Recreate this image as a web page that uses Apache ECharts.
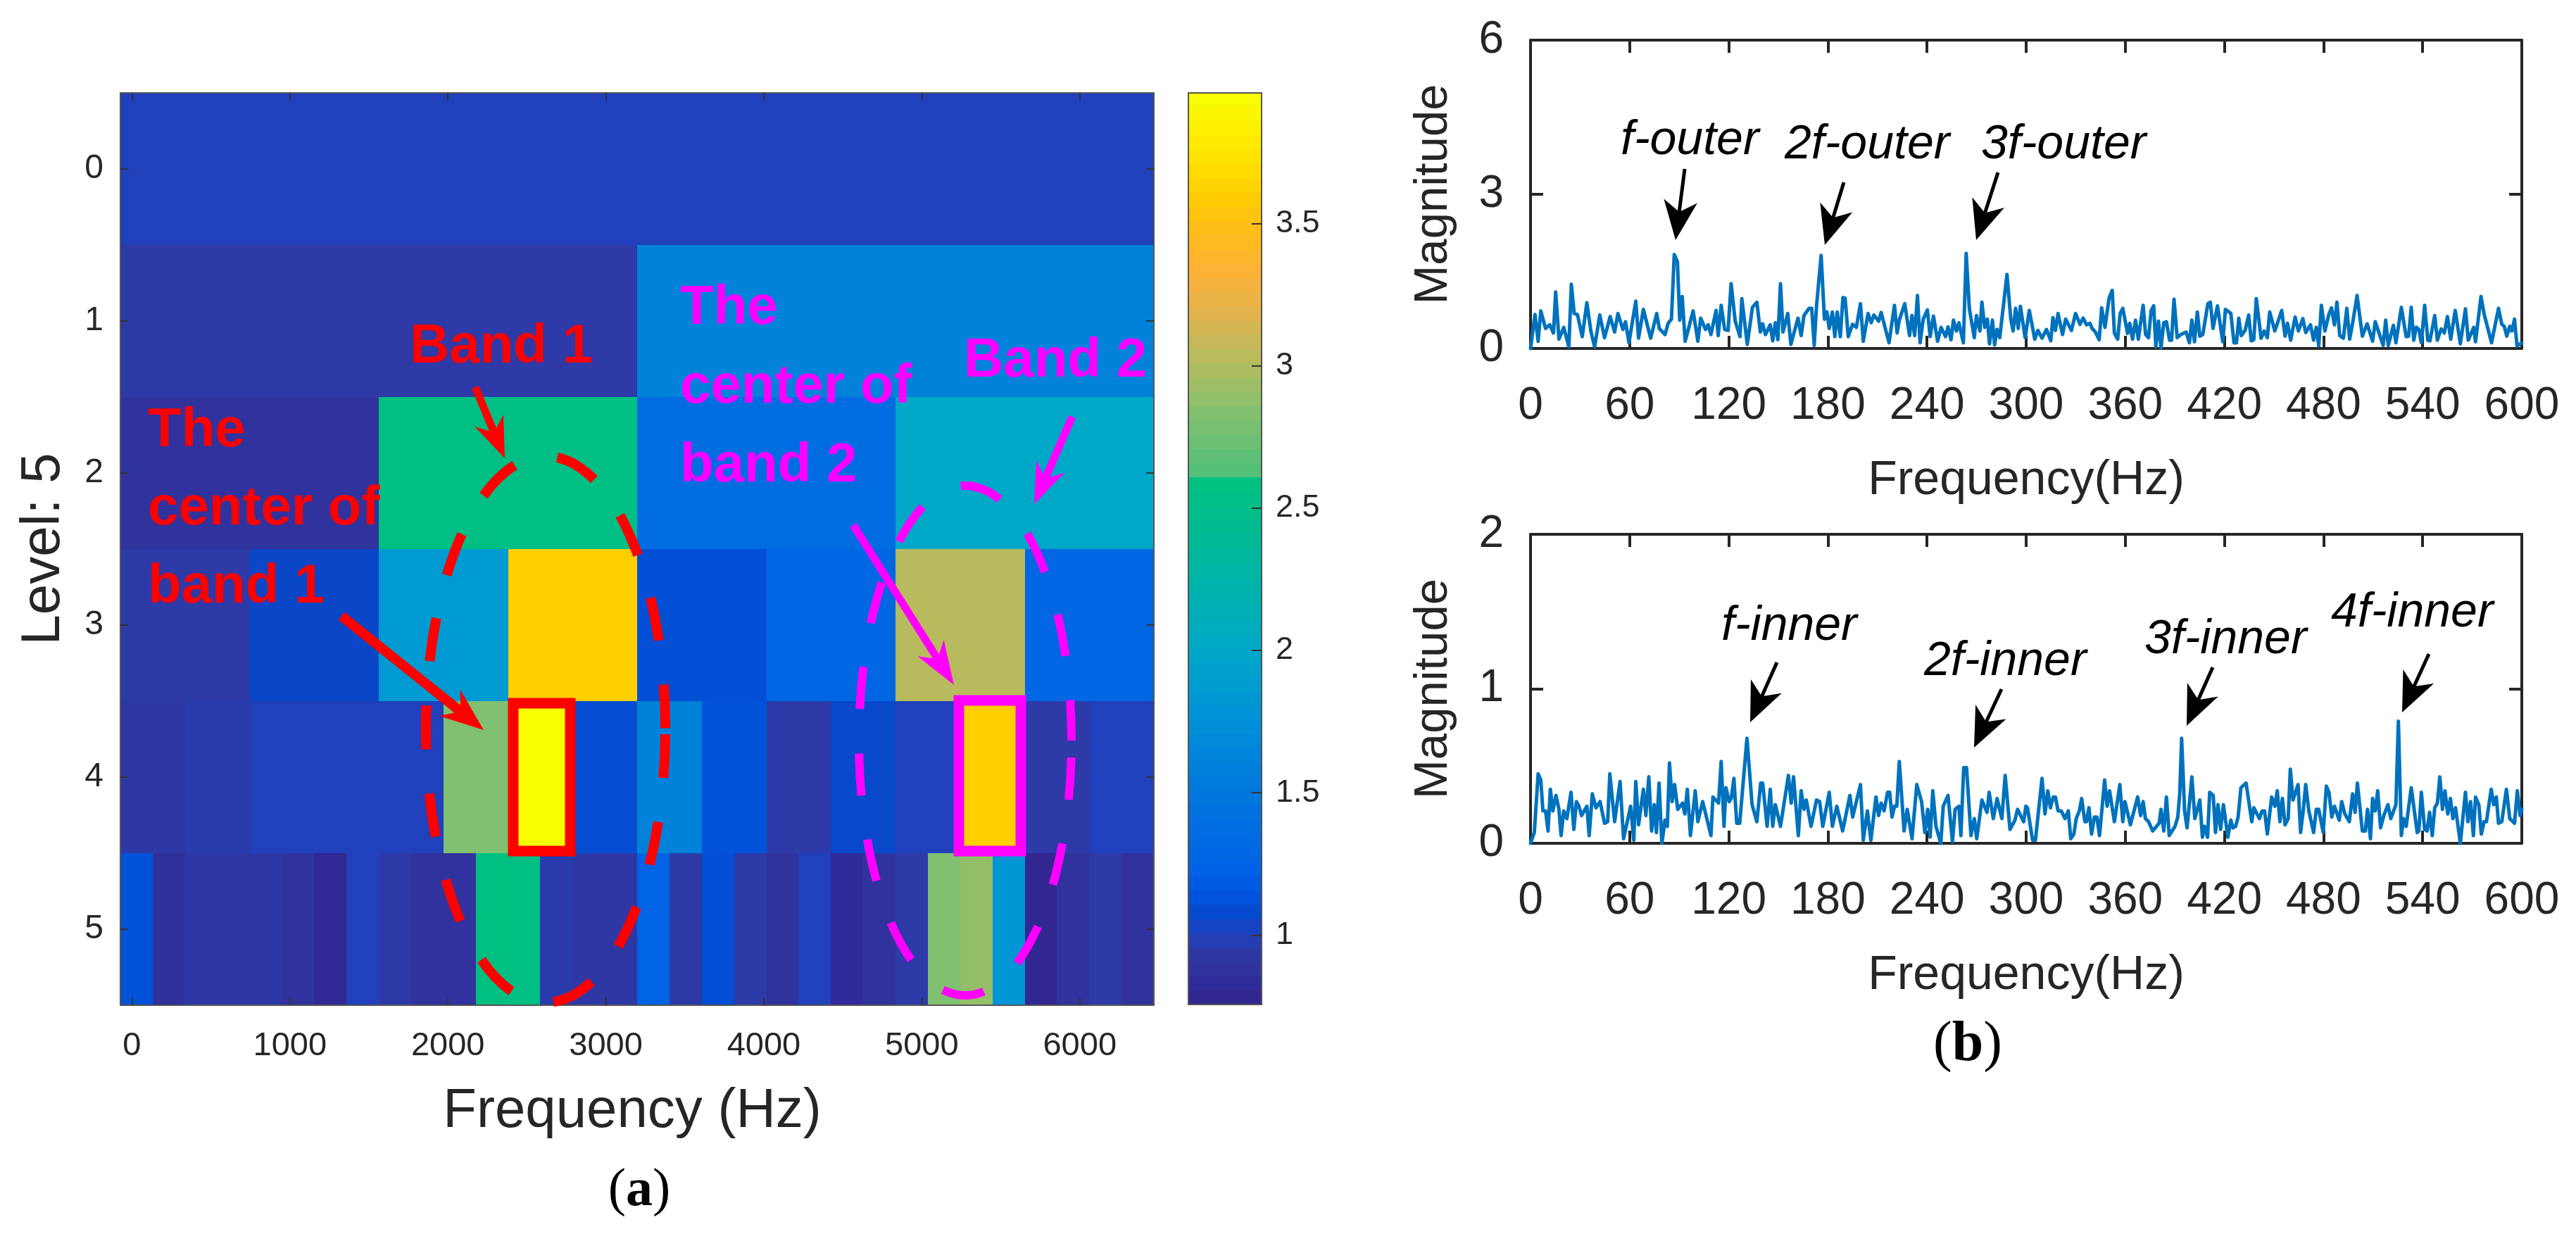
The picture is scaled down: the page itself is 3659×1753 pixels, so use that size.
<!DOCTYPE html>
<html>
<head>
<meta charset="utf-8">
<style>html,body{margin:0;padding:0;background:#fff}#c{width:3659px;height:1753px}</style>
<script src="https://cdn.jsdelivr.net/npm/echarts@6/dist/echarts.min.js"></script>
</head>
<body>
<div id="c"></div>
<script>
// ---------- panel (a): wavelet-packet kurtogram ----------
const levelLabels = [0, 1, 2, 3, 4, 5];
const freqTicks = [0, 1000, 2000, 3000, 4000, 5000, 6000];
const colorTicks = [1, 1.5, 2, 2.5, 3, 3.5];
const freqMin = -73, freqMax = 6469;
const colorMin = 0.756, colorMax = 3.959;
const level0 = [1.0];
const level1 = [0.95, 1.6];
const level2 = [0.88, 2.55, 1.35, 2.0];
const level3 = [0.95, 1.06, 1.85, 3.6, 1.1, 1.28, 3.03, 1.28];
const level4 = [0.93, 0.96, 1.0, 1.0, 1.0, 2.82, 3.95, 1.09, 1.6, 1.12, 0.95, 1.07, 1.0, 3.6, 0.95, 1.0];
const level5 = [1.12, 0.86, 0.93, 0.93, 0.93, 0.88, 0.8, 1.0, 0.94, 0.88, 0.88, 2.6, 2.55, 0.96, 0.93, 0.93,
                1.26, 0.94, 1.1, 0.95, 0.88, 1.0, 0.82, 0.88, 0.95, 2.82, 2.9, 1.8, 0.78, 0.88, 0.95, 0.88];
const levels = [level0, level1, level2, level3, level4, level5];

const colorStops = [
 [0.756,'#33268A'],[0.82,'#30299A'],[0.88,'#30339E'],[0.95,'#2D3AA8'],[1.0,'#2040BC'],[1.06,'#0A46C8'],
 [1.11,'#0050D8'],[1.23,'#0062E6'],[1.5,'#0078DC'],[1.75,'#0090D8'],[2.0,'#00A8C8'],[2.25,'#00B4A8'],
 [2.5,'#00BE88'],[2.61,'#00C080'],[2.615,'#50C078'],[2.69,'#60C076'],[2.82,'#80C070'],[3.0,'#B0BC60'],
 [3.2,'#E6B34C'],[3.35,'#FFB232'],[3.5,'#FFBE14'],[3.6,'#FFCF00'],[3.82,'#FFF000'],[3.959,'#F8FF00']];

// ---------- panel (b): envelope spectra (turning points) ----------
const spectrumTicks = [0,60,120,180,240,300,360,420,480,540,600];
const outerFreq = [0,2.7,4.6,6.2,9.1,11.6,13.9,15.2,17.2,20.1,23.2,24.7,26.4,28.4,31.3,34.1,36.5,38.8,41.9,44.8,48.2,50.9,52.9,55.9,57.5,59.6,63.7,65.4,68.3,72.7,76.4,77.9,81.4,83.3,85.3,87.0,88.9,90.3,91.8,93.6,95.5,98.4,101.3,103.0,105.9,107.5,109.2,112.3,113.6,115.4,117.5,119.6,121.4,123.9,126.8,127.9,131.2,134.3,137.0,139.1,140.5,142.2,145.1,146.6,148.2,149.7,151.3,152.8,155.7,157.6,161.9,163.8,165.5,168.6,170.2,171.7,173.1,175.9,177.9,179.4,180.8,182.7,184.2,185.6,187.5,189.1,190.4,192.3,194.9,197.2,199.7,201.4,204.3,206.2,207.8,210.7,212.2,217.0,220.3,221.9,223.2,226.5,229.4,230.9,232.5,234.2,235.8,237.7,240.2,241.9,243.9,246.4,248.5,251.2,252.7,254.5,256.0,257.8,259.3,262.0,263.7,265.6,268.6,269.9,272.0,273.2,274.9,276.5,277.8,279.6,280.9,282.4,284.0,288.4,290.7,292.1,293.6,295.2,296.5,299.4,301.9,305.2,307.1,309.6,312.3,314.9,316.2,317.7,319.3,322.0,323.9,327.4,329.9,332.6,334.5,336.5,338.6,339.9,341.9,344.2,345.7,347.7,350.2,352.1,353.4,355.4,356.9,358.5,361.4,362.7,364.4,366.2,367.9,370.8,372.3,374.1,375.6,377.2,378.5,380.1,381.6,383.3,384.9,386.8,388.0,389.5,391.4,393.6,396.8,398.8,400.3,401.9,403.6,405.1,406.9,410.0,411.5,413.1,415.8,419.0,420.6,423.9,425.8,427.3,428.7,430.2,432.5,434.7,436.2,437.8,439.3,442.2,444.1,446.0,447.4,450.5,454.7,456.7,458.2,460.1,462.8,464.8,467.5,469.2,472.1,474.0,475.6,477.1,478.7,480.8,483.3,484.8,486.6,488.1,489.8,492.0,494.1,495.8,497.8,500.3,503.5,506.4,509.7,511.3,516.1,517.6,519.2,522.3,523.8,527.1,530.0,531.5,533.1,534.6,536.1,537.7,539.2,541.2,543.1,544.4,547.3,548.9,551.2,553.1,555.0,557.0,559.7,562.8,565.9,567.6,570.9,572.0,575.3,577.2,581.7,585.9,587.9,589.4,590.9,592.7,594.0,595.6,597.1,599.0,600];
const outerMag = [0,.66,.14,.73,.39,.46,.30,1.10,.18,.41,.03,1.25,.68,.66,.23,.89,.34,.03,.65,.21,.62,.32,.68,.37,.52,.11,.92,.20,.76,.20,.68,.39,.27,.49,.57,1.83,1.69,.55,1.01,.14,.37,.73,.14,.59,.37,.46,.27,.74,.25,.84,.37,.35,1.26,.53,.23,.97,.08,.80,.90,.32,.48,.27,.46,.15,.50,.17,1.26,.32,.68,.08,.59,.25,.64,.78,.78,.06,.82,1.81,.57,.71,.39,.71,.23,.71,.23,.99,.98,.23,.47,.41,.87,.14,.68,.50,.65,.53,.70,.11,.84,.30,.55,.87,.25,.64,.25,1.03,.11,.57,.75,.23,.63,.14,.41,.23,.42,.17,.55,.34,.50,.11,1.85,.78,.21,.64,.34,.90,.41,.57,.09,.55,.07,.37,.21,1.44,.57,.34,.78,.39,.82,.21,.74,.18,.35,.20,.37,.15,.60,.35,.68,.27,.57,.35,.68,.47,.59,.46,.49,.39,.32,.17,.79,.41,.98,1.13,.30,.18,.68,.78,.29,.49,.18,.55,.18,.84,.27,.21,.73,.83,.03,.53,.01,.50,.52,.16,.16,.96,.21,.27,.32,.11,.55,.13,.71,.24,.27,.87,.90,.39,.83,.13,.76,.68,.11,.11,.59,.25,.35,.65,.15,.17,.97,.20,.34,.21,.71,.34,.74,.24,.49,.16,.61,.34,.58,.31,.46,.16,.41,.05,.84,.34,.67,.79,.46,.90,.25,.20,.78,.18,.53,1.03,.24,.48,.14,.52,.06,.55,.06,.45,.11,.80,.23,.24,.80,.16,.41,.37,.11,.84,.16,.15,.64,.16,.38,.30,.62,.18,.74,.09,.77,.16,.41,.13,1.01,.67,.11,.78,.47,.43,.24,.43,.34,.57,.05,.09,.10];
const innerFreq = [0,2.3,4.6,6.2,7.5,9.1,10.6,12.0,13.5,15.4,17.2,18.5,20.1,22.0,24.5,26.2,27.8,29.3,30.9,34.1,35.5,37.4,39.6,42.1,44.8,46.7,48.0,50.9,54.2,56.3,60.6,62.5,63.7,65.4,68.3,69.8,71.6,73.3,74.9,76.2,77.8,79.5,81.4,82.8,84.1,85.7,87.2,89.1,92.0,93.4,94.9,96.8,99.7,101.3,104.2,109.2,110.4,113.8,115.4,117.1,118.3,120.2,121.5,123.1,124.8,126.6,131.0,134.1,137.0,139.3,140.5,143.2,145.1,146.6,148.2,151.3,156.1,157.8,159.2,162.1,163.8,165.5,166.9,169.8,173.1,175.0,176.9,180.8,182.7,185.4,188.9,193.3,195.0,197.2,199.7,201.4,203.9,206.0,209.1,210.7,212.2,214.0,216.1,217.4,218.8,220.3,221.7,223.2,226.1,228.0,230.9,233.8,236.7,238.7,240.4,241.9,243.5,245.4,248.3,249.8,252.7,255.4,257.0,259.3,260.5,262.2,263.9,266.6,268.6,270.1,273.2,276.3,277.6,280.1,282.4,285.3,287.3,290.2,293.2,294.8,298.5,299.8,300.8,303.9,305.6,309.6,311.4,313.1,314.7,316.4,317.7,319.3,321.2,323.5,325.5,327.0,328.9,330.3,332.2,333.6,335.5,336.5,338.0,339.6,341.3,342.8,344.4,347.5,349.0,350.5,353.4,356.7,358.5,359.8,363.1,367.5,369.3,370.8,372.2,374.1,376.6,380.5,381.6,383.3,384.9,386.6,390.1,391.8,393.0,394.1,395.9,397.4,400.3,402.1,405.1,406.7,408.0,409.8,411.1,413.2,414.6,416.1,417.7,419.4,422.1,423.9,425.2,426.8,428.3,430.0,433.1,436.6,437.8,441.2,442.8,444.3,446.0,448.6,450.5,452.0,453.6,455.1,456.7,458.6,459.9,461.5,464.6,466.1,467.7,469.2,471.1,474.0,475.6,477.1,479.8,481.7,483.3,485.0,486.6,489.5,491.0,492.9,495.6,497.6,499.1,500.5,503.5,505.3,506.6,508.4,509.7,511.3,512.8,514.5,516.5,519.0,520.7,523.8,525.3,527.1,528.4,530.0,533.1,536.7,537.7,539.2,541.2,542.7,544.2,545.8,547.3,548.9,550.4,552.0,553.5,555.2,556.8,558.3,559.9,562.8,565.9,567.4,569.0,570.7,572.0,574.0,575.5,577.2,578.6,581.5,583.0,584.6,585.9,587.9,590.7,592.7,595.6,597.3,599.0,600];
const innerMag = [0,.07,.45,.41,.21,.21,.08,.35,.21,.31,.22,.05,.21,.16,.33,.09,.27,.24,.18,.24,.05,.32,.23,.27,.13,.14,.45,.14,.40,.03,.24,.02,.40,.12,.35,.18,.43,.08,.25,.07,.39,0,.15,.11,.52,.27,.38,.22,.26,.19,.35,.05,.34,.14,.27,.05,.30,.26,.53,.11,.36,.27,.29,.42,.13,.13,.68,.25,.14,.39,.39,.11,.35,.11,.25,.11,.44,.26,.43,.05,.34,.22,.28,.11,.28,.27,.11,.33,.11,.24,.08,.31,.17,.27,.38,.02,.21,.02,.30,.18,.26,.21,.33,.33,.17,.24,.24,.53,.08,.22,.03,.38,.27,.07,.22,.04,.34,.11,0,.24,.31,.01,.22,.24,.05,.49,.49,.05,.16,.03,.28,.20,.33,.16,.29,.16,.44,.09,.15,.22,.14,.24,.23,.02,.02,.42,.19,.34,.23,.30,.30,.21,.21,.16,.21,.03,.06,.16,.21,.29,.14,.14,.23,.06,.17,.17,.05,.41,.24,.34,.14,.38,.14,.27,.12,.30,.18,.27,.16,.14,.08,.13,.22,.08,.30,.05,.11,.17,.33,.68,.21,.10,.43,.16,.28,.04,.11,.04,.33,.31,.07,.25,.09,.25,.04,.15,.10,.11,.17,.36,.39,.14,.23,.16,.21,.21,.06,.30,.24,.34,.14,.29,.12,.16,.48,.28,.38,.07,.21,.38,.21,.07,.22,.22,.07,.37,.33,.17,.24,.15,.27,.19,.14,.32,.20,.39,.08,.08,.22,.03,.29,.21,.34,.10,.18,.25,.16,.25,.79,.05,.16,.11,.36,.07,.08,.33,.09,.08,.20,.05,.23,.26,.43,.22,.34,.19,.29,.16,.23,0,.33,.14,.27,.05,.30,.25,.06,.14,.14,.35,.25,.30,.13,.14,.35,.16,.13,.34,.18,.22];

const ink = '#262626', blue = '#0072BD', sans = '"Liberation Sans"', serif = '"Liberation Serif"';
const plain = v => String(v);

function hexToRgb(h){return [1,3,5].map(i=>parseInt(h.substr(i,2),16));}
function colorOf(v){
  if(v<=colorStops[0][0]) return colorStops[0][1];
  for(let i=1;i<colorStops.length;i++){
    if(v<=colorStops[i][0]){
      const [a,ca]=colorStops[i-1],[b,cb]=colorStops[i];
      const t=(v-a)/(b-a),p=hexToRgb(ca),q=hexToRgb(cb);
      return 'rgb('+p.map((c,k)=>Math.round(c+(q[k]-c)*t)).join(',')+')';
    }
  }
  return colorStops[colorStops.length-1][1];
}
function zip(a,b){return a.map((x,i)=>[x,b[i]]);}

// cells: [from Hz, to Hz, level, value]
const cells=[];
levels.forEach((row,lev)=>{
  const w=(freqMax-freqMin)/row.length;
  row.forEach((v,i)=>cells.push([freqMin+i*w,freqMin+(i+1)*w,lev,v]));
});
// colour bar: 64 bands [from, to, colour value]
const bands=[];
for(let i=0;i<64;i++){
  const w=(colorMax-colorMin)/64;
  bands.push([colorMin+i*w,colorMin+(i+1)*w,colorMin+(i+.5)*w]);
}

function renderCell(params,api){
  const a=api.coord([api.value(0),api.value(2)-.5]),b=api.coord([api.value(1),api.value(2)+.5]);
  const x=Math.round(a[0]),y=Math.round(a[1]);
  return {type:'rect',shape:{x,y,width:Math.round(b[0])-x,height:Math.round(b[1])-y},style:{fill:colorOf(api.value(3))}};
}
function renderBand(params,api){
  const a=api.coord([0,api.value(1)]),b=api.coord([1,api.value(0)]);
  const x=Math.round(a[0]),y=Math.round(a[1]);
  return {type:'rect',shape:{x,y,width:Math.round(b[0])-x,height:Math.round(b[1])-y},style:{fill:colorOf(api.value(2))}};
}

function borderAxis(extra,tick){
  return Object.assign({type:'value',splitLine:{show:false},
    axisLine:{show:true,onZero:false,lineStyle:{color:ink,width:4}},
    axisTick:Object.assign({show:true,inside:true,length:18,lineStyle:{color:ink,width:4}},tick||{}),
    axisLabel:{show:false}},extra);
}
function spectrumX(grid,main){
  return borderAxis({gridIndex:grid,min:0,max:600,position:main?'bottom':'top',
    axisLabel:{show:main,customValues:spectrumTicks,fontFamily:sans,fontSize:64,color:ink,margin:50},
    name:main?'Frequency(Hz)':'',nameLocation:'middle',nameGap:154,
    nameTextStyle:{fontFamily:sans,fontSize:68,color:ink}},{customValues:spectrumTicks});
}
function spectrumY(grid,main,max,ticks){
  return borderAxis({gridIndex:grid,min:0,max:max,position:main?'left':'right',
    axisLabel:{show:main,customValues:ticks,fontFamily:sans,fontSize:64,color:ink,margin:38,padding:[8,0,0,0]},
    name:main?'Magnitude':'',nameLocation:'middle',nameGap:104,
    nameTextStyle:{fontFamily:sans,fontSize:67,color:ink}},{customValues:ticks});
}
const heatTick={customValues:freqTicks,length:11,lineStyle:{color:'#333',width:2}};
const heatYTick={customValues:levelLabels,length:11,lineStyle:{color:'#333',width:2}};
const thinLine={show:true,onZero:false,lineStyle:{color:'#555',width:2}};

const option={
  animation:false,
  backgroundColor:'#fff',
  grid:[
    {left:171,top:132,width:1468,height:1296},
    {left:1688,top:132,width:104,height:1295},
    {left:2174,top:57,width:1408,height:438},
    {left:2174,top:759,width:1408,height:439}
  ],
  xAxis:[
    {type:'value',gridIndex:0,min:freqMin,max:freqMax,position:'bottom',z:5,splitLine:{show:false},axisLine:thinLine,
     axisTick:Object.assign({show:true,inside:true},heatTick),
     axisLabel:{customValues:freqTicks,formatter:plain,fontFamily:sans,fontSize:47,color:ink,margin:35},
     name:'Frequency (Hz)',nameLocation:'middle',nameGap:112,
     nameTextStyle:{fontFamily:sans,fontSize:78,color:ink,padding:[0,14,0,0]}},
    {type:'value',gridIndex:0,min:freqMin,max:freqMax,position:'top',z:5,splitLine:{show:false},axisLine:thinLine,
     axisTick:Object.assign({show:true,inside:true},heatTick),axisLabel:{show:false}},
    {type:'value',gridIndex:1,min:0,max:1,position:'bottom',splitLine:{show:false},axisLine:thinLine,axisTick:{show:false},axisLabel:{show:false},z:5},
    {type:'value',gridIndex:1,min:0,max:1,position:'top',splitLine:{show:false},axisLine:thinLine,axisTick:{show:false},axisLabel:{show:false},z:5},
    spectrumX(2,true),spectrumX(2,false),spectrumX(3,true),spectrumX(3,false)
  ],
  yAxis:[
    {type:'value',gridIndex:0,min:-.5,max:5.5,inverse:true,position:'left',z:5,splitLine:{show:false},axisLine:thinLine,
     axisTick:Object.assign({show:true,inside:true},heatYTick),
     axisLabel:{customValues:levelLabels,fontFamily:sans,fontSize:48,color:ink,margin:24,padding:[6,0,0,0]},
     name:'Level: 5',nameLocation:'middle',nameGap:70,
     nameTextStyle:{fontFamily:sans,fontSize:78,color:ink}},
    {type:'value',gridIndex:0,min:-.5,max:5.5,inverse:true,position:'right',z:5,splitLine:{show:false},axisLine:thinLine,
     axisTick:Object.assign({show:true,inside:true},heatYTick),axisLabel:{show:false}},
    {type:'value',gridIndex:1,min:colorMin,max:colorMax,position:'right',z:5,splitLine:{show:false},axisLine:thinLine,
     axisTick:{show:true,inside:true,length:14,customValues:colorTicks,lineStyle:{color:'#333',width:2}},
     axisLabel:{customValues:colorTicks,fontFamily:sans,fontSize:45,color:ink,margin:20,padding:[8,0,0,0]}},
    {type:'value',gridIndex:1,min:colorMin,max:colorMax,position:'left',z:5,splitLine:{show:false},axisLine:thinLine,axisTick:{show:false},axisLabel:{show:false}},
    spectrumY(2,true,6,[0,3,6]),spectrumY(2,false,6,[0,3,6]),
    spectrumY(3,true,2,[0,1,2]),spectrumY(3,false,2,[0,1,2])
  ],
  series:[
    {type:'custom',name:'Kurtogram',xAxisIndex:0,yAxisIndex:0,data:cells,encode:{x:[0,1],y:2},renderItem:renderCell,clip:false,silent:true},
    {type:'custom',name:'Colour bar',xAxisIndex:2,yAxisIndex:2,data:bands,encode:{y:[0,1]},renderItem:renderBand,clip:false,silent:true},
    {type:'line',name:'Outer',xAxisIndex:4,yAxisIndex:4,data:zip(outerFreq,outerMag),showSymbol:false,clip:false,
     lineStyle:{color:blue,width:5,join:'round',cap:'round'},z:6},
    {type:'line',name:'Inner',xAxisIndex:6,yAxisIndex:6,data:zip(innerFreq,innerMag),showSymbol:false,clip:false,
     lineStyle:{color:blue,width:5,join:'round',cap:'round'},z:6}
  ],
  graphic:{elements:[]}
};

// ---------- annotations ----------
const G=option.graphic.elements;
function text(t,x,base,font,fill,align){
  const size=parseFloat(font.match(/(\d+(\.\d+)?)px/)[1]);
  G.push({type:'text',z:100,x:x,y:base-size*0.28,silent:true,
    style:{text:t,font:font,fill:fill,align:align||'left',verticalAlign:'middle'}});
}
function arrow(x0,y0,x1,y1,shaft,len,half,notch,fill){
  const L=Math.hypot(x1-x0,y1-y0),ux=(x1-x0)/L,uy=(y1-y0)/L,nx=-uy,ny=ux;
  const bx=x1-ux*len,by=y1-uy*len,mx=x1-ux*(len-notch),my=y1-uy*(len-notch);
  const s=shaft/2;
  G.push({type:'polygon',z:100,silent:true,style:{fill:fill},shape:{points:[
    [x0+nx*s,y0+ny*s],[mx+nx*s,my+ny*s],[bx+nx*half,by+ny*half],[x1,y1],
    [bx-nx*half,by-ny*half],[mx-nx*s,my-ny*s],[x0-nx*s,y0-ny*s]]}});
}
function dashedEllipse(cx,cy,rx,ry,color,w,dash,offset){
  G.push({type:'ellipse',z:99,silent:true,x:cx,y:cy,rotation:Math.PI,shape:{cx:0,cy:0,rx:rx,ry:ry},
    style:{fill:'transparent',stroke:color,lineWidth:w,lineDash:dash,lineDashOffset:offset,lineCap:'butt'}});
}
function frame(x,y,w,h,color){
  G.push({type:'rect',z:100,silent:true,shape:{x,y,width:w,height:h},
    style:{fill:'transparent',stroke:color,lineWidth:15,lineJoin:'miter'}});
}
const RED='#FF0000',MAG='#FF00FF';
dashedEllipse(775,1036,170,388,RED,14,[62,63],-7);
dashedEllipse(1371,1052,151,362,MAG,12,[60,63],-24);
frame(729,999,81,210,RED);
frame(1362,995,88,214,MAG);
arrow(675,550,717,651,11,58,22,14,RED);
arrow(485,875,687,1037,14,62,24,14,RED);
arrow(1523,592,1469,716,11,58,22,14,MAG);
arrow(1212,746,1355,973,11,62,22,14,MAG);
const bold78='bold 78px '+sans;
text('Band 1',582,515,bold78,RED);
text('The',210,634,bold78,RED);
text('center of',210,745,bold78,RED);
text('band 1',210,856,bold78,RED);
text('The',966,460,bold78,MAG);
text('center of',966,572,bold78,MAG);
text('band 2',966,684,bold78,MAG);
text('Band 2',1369,535,bold78,MAG);

const it='italic 68px '+sans;
text('f-outer',2302,219,it,'#000');
text('2f-outer',2535,225,it,'#000');
text('3f-outer',2814,225,it,'#000');
text('f-inner',2445,909,it,'#000');
text('2f-inner',2733,959,it,'#000');
text('3f-inner',3046,928,it,'#000');
text('4f-inner',3311,890,it,'#000');
[[2393,240,2380,341],[2619,259,2592,348],[2838,245,2807,341],
 [2524,941,2486,1026],[2843,979,2804,1062],[3143,948,3106,1031],[3450,929,3412,1012]]
 .forEach(a=>arrow(a[0],a[1],a[2],a[3],5,56,24,14,'#000'));

function panelTag(letter,x,y,size){
  G.push({type:'text',z:100,silent:true,x:x,y:y,style:{text:'{n|(}{b|'+letter+'}{n|)}',align:'center',verticalAlign:'middle',
    rich:{n:{font:size+'px '+serif,fill:'#000'},b:{font:'bold '+size+'px '+serif,fill:'#000'}}}});
}
panelTag('a',908,1692,76);
panelTag('b',2795,1485,80);

echarts.init(document.getElementById('c'),null,{renderer:'canvas',width:3659,height:1753}).setOption(option);
</script>
</body>
</html>
